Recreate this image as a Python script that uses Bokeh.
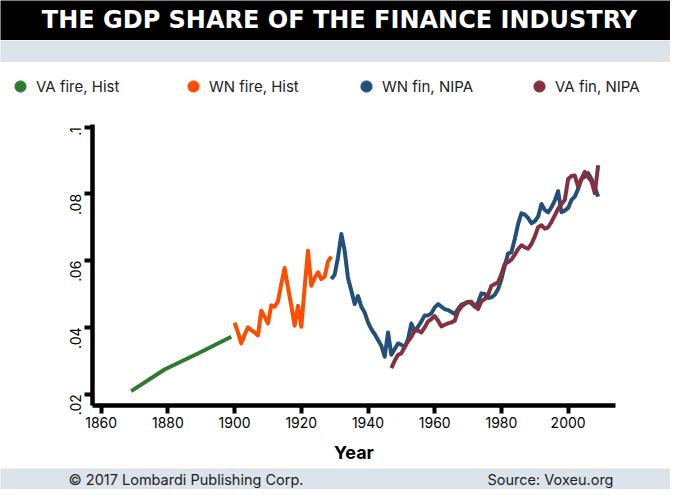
import math
from bokeh.plotting import figure
from bokeh.models import Range1d, Label, Legend, LegendItem, FixedTicker
from bokeh.layouts import column
from bokeh.embed import file_html
from bokeh.resources import INLINE

# ---------------- data ----------------
title_text = "THE GDP SHARE OF THE FINANCE INDUSTRY"
series_names = ["VA fire, Hist", "WN fire, Hist", "WN fin, NIPA", "VA fin, NIPA"]
series_colors = ["#2e7b30", "#fc4e03", "#22507a", "#85303c"]

va_fire_years = [1869, 1879, 1889, 1899]
va_fire_vals = [0.0209, 0.0274, 0.0322, 0.0372]

wn_fire_years = list(range(1900, 1930))
wn_fire_vals = [0.0414, 0.0385, 0.0352, 0.0378, 0.0400, 0.0392, 0.0385, 0.0376,
                0.0450, 0.0432, 0.0412, 0.0466, 0.0462, 0.0478, 0.0530, 0.0578,
                0.0520, 0.0465, 0.0405, 0.0465, 0.0402, 0.0520, 0.0630, 0.0525,
                0.0548, 0.0565, 0.0545, 0.0552, 0.0598, 0.0612]

wn_fin_years = list(range(1929, 2010))
wn_fin_vals = [0.0545, 0.0558, 0.0610, 0.0680, 0.0630, 0.0548, 0.0510, 0.0470,
               0.0494, 0.0462, 0.0445, 0.0415, 0.0395, 0.0380, 0.0362, 0.0345,
               0.0312, 0.0385, 0.0318, 0.0335, 0.0352, 0.0348, 0.0340, 0.0365,
               0.0412, 0.0388, 0.0402, 0.0418, 0.0436, 0.0436, 0.0442, 0.0460,
               0.0470, 0.0462, 0.0455, 0.0452, 0.0446, 0.0440, 0.0455, 0.0468,
               0.0472, 0.0477, 0.0472, 0.0462, 0.0475, 0.0502, 0.0500, 0.0488,
               0.0490, 0.0498, 0.0515, 0.0545, 0.0585, 0.0622, 0.0625, 0.0665,
               0.0710, 0.0742, 0.0738, 0.0728, 0.0712, 0.0718, 0.0732, 0.0770,
               0.0752, 0.0745, 0.0760, 0.0780, 0.0808, 0.0745, 0.0750, 0.0758,
               0.0782, 0.0792, 0.0815, 0.0845, 0.0852, 0.0862, 0.0845, 0.0820,
               0.0792]

va_fin_years = list(range(1947, 2010))
va_fin_vals = [0.0278, 0.0300, 0.0318, 0.0322, 0.0342, 0.0358, 0.0372, 0.0392,
               0.0390, 0.0385, 0.0400, 0.0418, 0.0425, 0.0434, 0.0420, 0.0403,
               0.0408, 0.0412, 0.0415, 0.0420, 0.0448, 0.0462, 0.0470, 0.0476,
               0.0477, 0.0465, 0.0455, 0.0478, 0.0485, 0.0498, 0.0525, 0.0530,
               0.0535, 0.0560, 0.0590, 0.0596, 0.0603, 0.0618, 0.0635, 0.0646,
               0.0640, 0.0636, 0.0650, 0.0672, 0.0700, 0.0706, 0.0696, 0.0700,
               0.0716, 0.0736, 0.0756, 0.0770, 0.0782, 0.0845, 0.0854, 0.0855,
               0.0822, 0.0845, 0.0866, 0.0850, 0.0838, 0.0802, 0.0886]

x_ticks = [1860, 1880, 1900, 1920, 1940, 1960, 1980, 2000]
y_ticks = [0.02, 0.04, 0.06, 0.08, 0.1]
y_tick_labels = [".02", ".04", ".06", ".08", ".1"]
x_axis_label = "Year"
footer_left = "\u00a9 2017 Lombardi Publishing Corp."
footer_right = "Source: Voxeu.org"

W = 670
FONT = "Inter"
BAND = "#dce3ea"


def no_align(f):
    try:
        f.frame_align = False
    except Exception:
        pass


def blank(height, bg):
    f = figure(width=W, height=height, x_range=Range1d(0, 1), y_range=Range1d(0, 1),
               x_axis_location=None, y_axis_location=None, toolbar_location=None,
               output_backend="svg", min_border=0, min_border_left=0,
               min_border_right=0, min_border_top=0, min_border_bottom=0,
               background_fill_color=bg, border_fill_color=bg)
    f.grid.visible = False
    f.outline_line_color = None
    no_align(f)
    return f


# ---------------- header ----------------
f_title = blank(40, "#000000")
f_title.add_layout(Label(x=339, y=21, x_units="screen", y_units="screen",
                         text=title_text, text_align="center", text_baseline="middle",
                         text_color="white", text_font="DejaVu Sans",
                         text_font_style="bold", text_font_size="24px"))

f_band = blank(22, BAND)

# ---------------- legend row ----------------
f_leg = blank(44, "white")
items = []
for name, col in zip(series_names, series_colors):
    r = f_leg.scatter(x=[math.nan], y=[math.nan], marker="circle", color=col)
    items.append(LegendItem(label=name, renderers=[r]))
legend = Legend(items=items, orientation="horizontal", location=(6, 6),
                glyph_width=28, glyph_height=28, label_standoff=2, label_width=100,
                label_height=18, spacing=43, padding=0, margin=0,
                border_line_alpha=0, background_fill_alpha=0,
                label_text_font=FONT, label_text_font_size="15px",
                label_text_color="#222222")
f_leg.add_layout(legend)

# ---------------- main chart ----------------
p = figure(width=W, height=362, x_range=Range1d(1857.4, 2014.2),
           y_range=Range1d(0.0166, 0.1008), toolbar_location=None,
           output_backend="svg", min_border_left=92, min_border_right=55,
           min_border_top=18, min_border_bottom=63)
p.grid.visible = False
p.outline_line_color = None
no_align(p)

all_x = [va_fire_years, wn_fire_years, wn_fin_years, va_fin_years]
all_y = [va_fire_vals, wn_fire_vals, wn_fin_vals, va_fin_vals]
for xs, ys, col in zip(all_x, all_y, series_colors):
    p.line(xs, ys, line_width=4, color=col, line_join="round")

for ax in (p.xaxis[0], p.yaxis[0]):
    ax.axis_line_width = 4.5
    ax.axis_line_color = "black"
    ax.major_tick_line_width = 4
    ax.major_tick_line_color = "black"
    ax.major_tick_out = 8
    ax.major_tick_in = 0
    ax.minor_tick_line_color = None
    ax.major_label_text_font = FONT
    ax.major_label_text_font_size = "14px"
    ax.major_label_text_color = "black"
    ax.major_label_standoff = 3

p.yaxis[0].major_label_standoff = 9
p.xaxis[0].ticker = FixedTicker(ticks=x_ticks)
p.yaxis[0].ticker = FixedTicker(ticks=y_ticks)
p.yaxis[0].major_label_overrides = {t: l for t, l in zip(y_ticks, y_tick_labels)}
p.yaxis[0].major_label_orientation = math.pi / 2
p.xaxis[0].axis_label = x_axis_label
p.xaxis[0].axis_label_text_font = FONT
p.xaxis[0].axis_label_text_font_style = "bold"
p.xaxis[0].axis_label_text_font_size = "18px"
p.xaxis[0].axis_label_text_color = "black"
p.xaxis[0].axis_label_standoff = 11

# ---------------- footer ----------------
f_foot = blank(21, BAND)
f_foot.add_layout(Label(x=68, y=10, x_units="screen", y_units="screen",
                        text=footer_left, text_align="left", text_baseline="middle",
                        text_font=FONT, text_font_size="14.5px", text_color="#222222"))
f_foot.add_layout(Label(x=613, y=10, x_units="screen", y_units="screen",
                        text=footer_right, text_align="right", text_baseline="middle",
                        text_font=FONT, text_font_size="14.5px", text_color="#222222"))

layout = column(f_title, f_band, f_leg, p, f_foot, spacing=0)
open("out.html", "w").write(file_html(layout, INLINE))
